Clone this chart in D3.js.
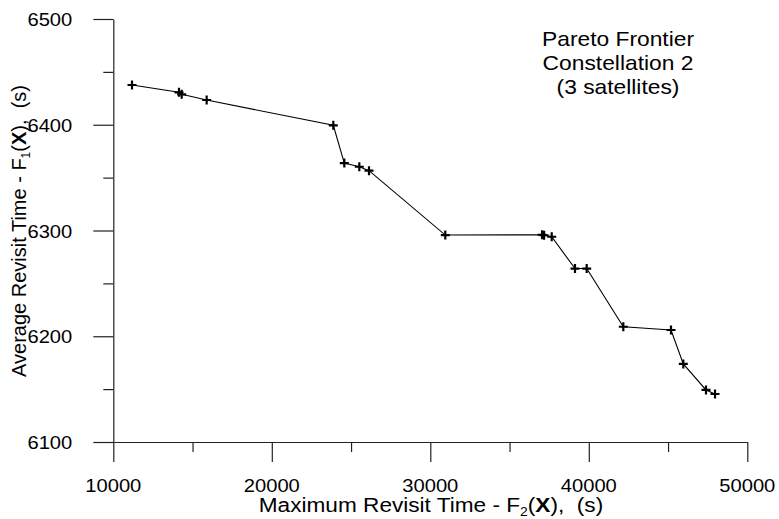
<!DOCTYPE html>
<html>
<head>
<meta charset="utf-8">
<script src="https://cdn.jsdelivr.net/npm/d3@7"></script>
<style>
  html, body { margin: 0; padding: 0; background: #fff; }
  svg { display: block; }
  text { font-family: "Liberation Sans", Arial, sans-serif; fill: #000; }
</style>
</head>
<body>
<svg id="chart" width="779" height="519"></svg>
<script>
// Pareto frontier points: maximum revisit time F2 (s) vs average revisit time F1 (s)
const maxRevisit = [11180, 14145, 14315, 15890, 23880, 24574, 25521, 26133, 30946,
                    37050, 37180, 37660, 39129, 39867, 42177, 45186, 45962, 47394, 47962];
const avgRevisit = [6437.6, 6430.7, 6428.8, 6423.4, 6399.5, 6363.8, 6360.3, 6356.6, 6295.7,
                    6296.0, 6295.5, 6294.1, 6264.0, 6264.0, 6209.0, 6205.9, 6173.8, 6149.2, 6145.4];

const xMajorTicks = [10000, 20000, 30000, 40000, 50000];
const xMinorTicks = [15000, 25000, 35000, 45000];
const yMajorTicks = [6100, 6200, 6300, 6400, 6500];
const yMinorTicks = [6150, 6250, 6350, 6450];

const annotationLines = ["Pareto Frontier", "Constellation 2", "(3 satellites)"];

const svg = d3.select("#chart");
const plot = { left: 113.3, right: 747.3, top: 19, bottom: 442 };
const majorLen = 20, minorLen = 10;

const x = d3.scaleLinear().domain([10000, 50000]).range([plot.left, plot.right]);
const y = d3.scaleLinear().domain([6100, 6500]).range([plot.bottom, plot.top]);

// horizontally widened text helper
function label(parent, px, py, anchor, size, sx) {
  return parent.append("text")
    .attr("transform", `translate(${px},${py}) scale(${sx},1)`)
    .attr("text-anchor", anchor)
    .style("font-size", size + "px");
}

// axes
const gx = svg.append("g").attr("transform", `translate(0,${plot.bottom})`);
gx.call(d3.axisBottom(x).tickValues(xMajorTicks).tickSize(majorLen).tickSizeOuter(0).tickFormat(""));
gx.append("g").call(d3.axisBottom(x).tickValues(xMinorTicks).tickSize(minorLen).tickSizeOuter(0).tickFormat(""))
  .select(".domain").remove();

const gy = svg.append("g").attr("transform", `translate(${plot.left},0)`);
gy.call(d3.axisLeft(y).tickValues(yMajorTicks).tickSize(majorLen).tickSizeOuter(0).tickFormat(""));
gy.append("g").call(d3.axisLeft(y).tickValues(yMinorTicks).tickSize(minorLen).tickSizeOuter(0).tickFormat(""))
  .select(".domain").remove();

svg.selectAll(".domain, .tick line").attr("stroke", "#222").attr("stroke-width", 1.2);

// tick labels
const tickFs = 18.5, tickSx = 1.09;
xMajorTicks.forEach(v => {
  label(svg, x(v), plot.bottom + 49.6, "middle", tickFs, tickSx).text(d3.format("d")(v));
});
yMajorTicks.forEach(v => {
  label(svg, plot.left - majorLen - 21, y(v) + 7, "end", tickFs, tickSx).text(d3.format("d")(v));
});

// axis titles
const xt = label(svg, 431, 511.5, "middle", 19.5, 1.16);
xt.append("tspan").text("Maximum Revisit Time - F");
xt.append("tspan").attr("dy", 4).style("font-size", "12px").text("2");
xt.append("tspan").attr("dy", -4).text("(");
xt.append("tspan").style("font-weight", "bold").text("X");
xt.append("tspan").text("),\u00a0\u00a0(s)");

const yt = svg.append("text")
  .attr("transform", `translate(26,231) rotate(-90)`)
  .attr("text-anchor", "middle")
  .style("font-size", "20px");
yt.append("tspan").text("Average Revisit Time - F");
yt.append("tspan").attr("dy", 4).style("font-size", "12px").text("1");
yt.append("tspan").attr("dy", -4).text("(");
yt.append("tspan").style("font-weight", "bold").text("X");
yt.append("tspan").text("),\u00a0\u00a0(s)");

// annotation block
annotationLines.forEach((t, i) => {
  label(svg, 618, 45.5 + i * 24, "middle", 20, 1.14).text(t);
});

// frontier line
const pts = maxRevisit.map((v, i) => [v, avgRevisit[i]]);
svg.append("path")
  .datum(pts)
  .attr("fill", "none")
  .attr("stroke", "#000")
  .attr("stroke-width", 1.1)
  .attr("d", d3.line().x(d => x(d[0])).y(d => y(d[1])));

// plus markers
svg.append("g").selectAll("path")
  .data(pts)
  .join("path")
  .attr("transform", d => `translate(${x(d[0])},${y(d[1])})`)
  .attr("d", "M-4.5,0H4.5M0,-4.5V4.5")
  .attr("stroke", "#000")
  .attr("stroke-width", 2.2)
  .attr("fill", "none");
</script>
</body>
</html>
